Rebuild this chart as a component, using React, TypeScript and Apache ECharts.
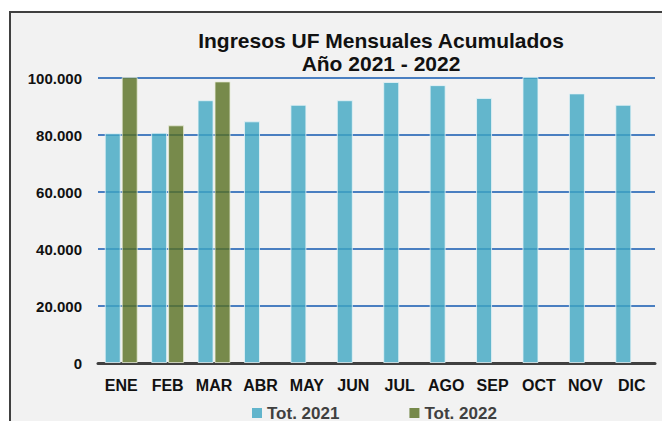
import React, { useEffect, useRef } from "react";
import * as echarts from "echarts";

const months = ["ENE", "FEB", "MAR", "ABR", "MAY", "JUN", "JUL", "AGO", "SEP", "OCT", "NOV", "DIC"];
const tot2021 = [80600, 80800, 92200, 84800, 90600, 92200, 98600, 97500, 93000, 100400, 94600, 90600];
const tot2022: (number | null)[] = [100300, 83400, 98800, null, null, null, null, null, null, null, null, null];
const seriesNames = ["Tot. 2021", "Tot. 2022"];
const titleLines = ["Ingresos UF Mensuales Acumulados", "Año 2021 - 2022"];

const FONT = "'Liberation Sans', Arial, sans-serif";

export default function App() {
  const ref = useRef<HTMLDivElement>(null);
  useEffect(() => {
    if (!ref.current) return;
    const chart = echarts.init(ref.current, null, { renderer: "svg" });
    const fmt = (v: number) => String(v).replace(/\B(?=(\d{3})+(?!\d))/g, ".");
    chart.setOption({
      animation: false,
      backgroundColor: "#ffffff",
      graphic: [
        {
          type: "rect",
          z: -10,
          shape: { x: 10, y: 12, width: 700, height: 450 },
          style: { fill: "#f2f2f2", stroke: "#404040", lineWidth: 2 },
        },
        {
          type: "text",
          x: 381,
          y: 40,
          style: {
            text: titleLines[0],
            fill: "#111111",
            font: `bold 21px ${FONT}`,
            textAlign: "center",
            textVerticalAlign: "middle",
          },
        },
        {
          type: "text",
          x: 381,
          y: 63,
          style: {
            text: titleLines[1],
            fill: "#111111",
            font: `bold 21px ${FONT}`,
            textAlign: "center",
            textVerticalAlign: "middle",
          },
        },
      ],
      grid: { left: 98, right: 7, top: 78, bottom: 58, containLabel: false },
      legend: {
        left: 247,
        top: 399,
        itemWidth: 10,
        itemHeight: 10,
        itemGap: 70,
        icon: "rect",
        textStyle: { fontFamily: FONT, fontWeight: "bold", fontSize: 17, lineHeight: 18, color: "#404040", padding: [0, 0, 0, 0] },
        data: [
          { name: seriesNames[0], itemStyle: { color: "#62b5cc", opacity: 1, borderWidth: 0 } },
          { name: seriesNames[1], itemStyle: { color: "#76894a", opacity: 1, borderWidth: 0 } },
        ],
      },
      xAxis: {
        type: "category",
        data: months,
        axisLine: { lineStyle: { color: "#404040", width: 3 } },
        axisTick: { show: false },
        axisLabel: { interval: 0, fontFamily: FONT, fontWeight: "bold", fontSize: 16, color: "#111111", margin: 14 },
      },
      yAxis: {
        type: "value",
        min: 0,
        max: 100000,
        interval: 20000,
        axisLine: { show: false },
        axisTick: { show: false },
        splitLine: { lineStyle: { color: "#4a7fc1", width: 2 } },
        axisLabel: {
          fontFamily: FONT,
          fontWeight: "bold",
          fontSize: 15,
          color: "#111111",
          margin: 16,
          formatter: (v: number) => fmt(v),
        },
      },
      series: [
        {
          name: seriesNames[0],
          type: "bar",
          data: tot2021,
          barWidth: 16,
          barGap: "6%",
          clip: false,
          itemStyle: { color: "#3ea6c2", opacity: 0.8, borderColor: "#e6f4f8", borderWidth: 1 },
        },
        {
          name: seriesNames[1],
          type: "bar",
          data: tot2022,
          barWidth: 16,
          barGap: "6%",
          clip: false,
          itemStyle: { color: "#576f20", opacity: 0.8, borderColor: "#e8ecd8", borderWidth: 1 },
        },
      ],
    });
    return () => chart.dispose();
  }, []);
  return (
    <div
      ref={ref}
      style={{ position: "fixed", left: 0, top: 0, width: 662, height: 421 }}
    />
  );
}
